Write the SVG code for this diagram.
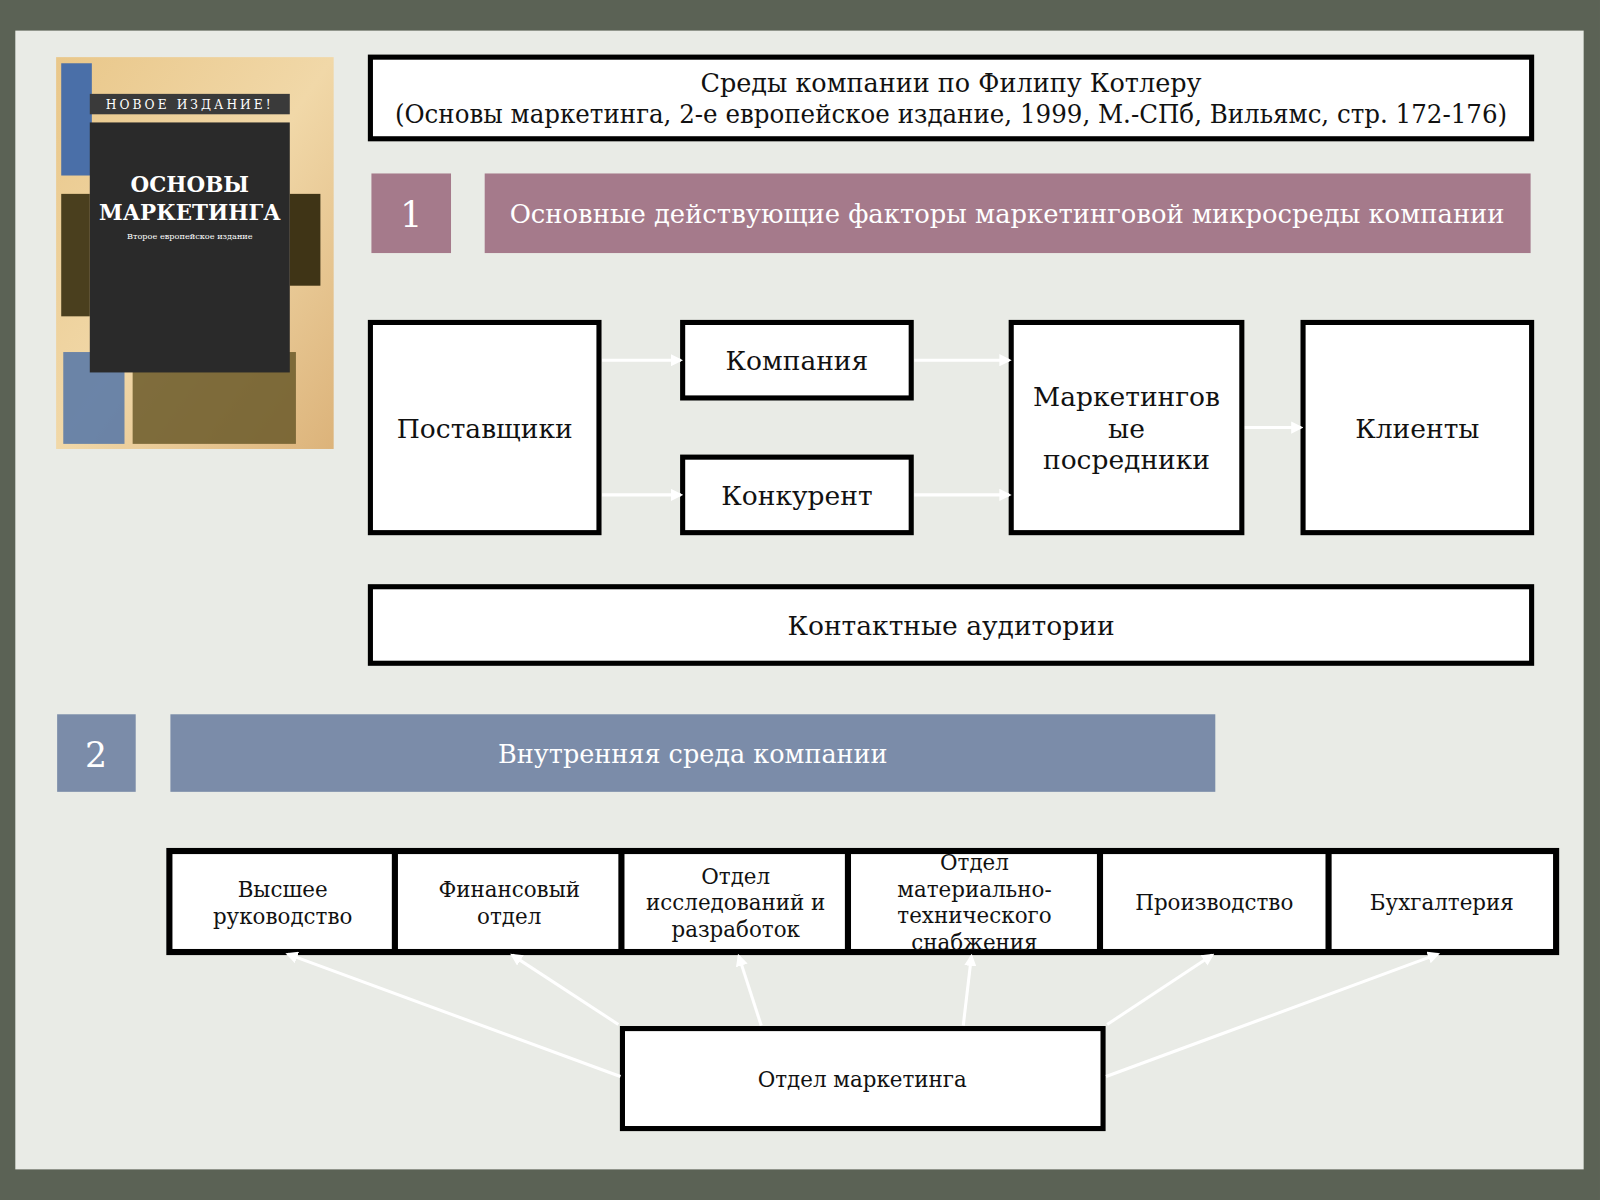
<svg xmlns="http://www.w3.org/2000/svg" width="1600" height="1200" viewBox="0 0 1600 1200">
<defs>
<style>
.box{fill:#fff;stroke:#000;stroke-width:5}
.t{font-family:"DejaVu Serif","Liberation Serif",serif;fill:#111;text-anchor:middle}
.w{font-family:"DejaVu Serif","Liberation Serif",serif;fill:#fff;text-anchor:middle}
.c{stroke:#fff;stroke-width:3;fill:none;marker-end:url(#a)}
</style>
<marker id="a" viewBox="0 0 10 10" refX="8" refY="5" markerWidth="4" markerHeight="4" orient="auto"><path d="M0,0L10,5L0,10z" fill="#fff"/></marker>
<linearGradient id="bk" x1="0" y1="0" x2="1" y2="1"><stop offset="0" stop-color="#e9c78a"/><stop offset="0.5" stop-color="#f1d8a8"/><stop offset="1" stop-color="#dcb37a"/></linearGradient>
</defs>
<g transform="scale(1.0204)">
<rect x="0" y="0" width="1568" height="1176" fill="#5b6255"/>
<rect x="15" y="30" width="1537" height="1116" fill="#e9ebe6"/>
<g id="book">
<rect x="55" y="56" width="272" height="384" fill="url(#bk)"/>
<rect x="60" y="62" width="30" height="110" fill="#4a6fa8"/>
<rect x="60" y="190" width="28" height="120" fill="#4a3f1e"/>
<rect x="284" y="190" width="30" height="90" fill="#3f3416"/>
<rect x="62" y="345" width="60" height="90" fill="#4a6fa8" opacity="0.8"/>
<rect x="130" y="345" width="160" height="90" fill="#6b5a2a" opacity="0.85"/>
<rect x="88" y="120" width="196" height="245" fill="#2a2a2a"/>
<rect x="88" y="92" width="196" height="20" fill="#3a3a3a"/>
<text x="186" y="107" class="w" font-size="12" letter-spacing="3">НОВОЕ ИЗДАНИЕ!</text>
<text x="186" y="188" class="w" font-size="21" font-weight="bold">ОСНОВЫ</text>
<text x="186" y="216" class="w" font-size="21" font-weight="bold">МАРКЕТИНГА</text>
<text x="186" y="234" class="w" font-size="8">Второе европейское издание</text>
</g>
<g id="title"><rect class="box" x="363" y="56" width="1138" height="80"/>
<text class="t" x="932" y="90" font-size="25">Среды компании по Филипу Котлеру</text>
<text class="t" x="932" y="121" font-size="25" textLength="1090" lengthAdjust="spacingAndGlyphs">(Основы маркетинга, 2-е европейское издание, 1999, М.-СПб, Вильямс, стр. 172-176)</text></g>
<g id="h1"><rect x="364" y="170" width="78" height="78" fill="#a57a8b"/><text class="w" x="403" y="222" font-size="34">1</text>
<rect x="475" y="170" width="1025" height="78" fill="#a57a8b"/><text class="w" x="987" y="219" font-size="25" textLength="975" lengthAdjust="spacingAndGlyphs">Основные действующие факторы маркетинговой микросреды компании</text></g>
<g id="n1"><rect class="box" x="363" y="316" width="224" height="206"/><text class="t" x="475" y="429" font-size="26">Поставщики</text></g>
<g id="n2"><rect class="box" x="669" y="316" width="224" height="74"/><text class="t" x="781" y="363" font-size="26">Компания</text></g>
<g id="n3"><rect class="box" x="669" y="448" width="224" height="74"/><text class="t" x="781" y="495" font-size="26">Конкурент</text></g>
<g id="n4"><rect class="box" x="991" y="316" width="226" height="206"/><text class="t" x="1104" y="398" font-size="26">Маркетингов</text><text class="t" x="1104" y="429" font-size="26">ые</text><text class="t" x="1104" y="460" font-size="26">посредники</text></g>
<g id="n5"><rect class="box" x="1277" y="316" width="224" height="206"/><text class="t" x="1389" y="429" font-size="26">Клиенты</text></g>
<g id="n6"><rect class="box" x="363" y="575" width="1138" height="75"/><text class="t" x="932" y="622" font-size="26">Контактные аудитории</text></g>
<g id="h2"><rect x="56" y="700" width="77" height="76" fill="#7b8ca9"/><text class="w" x="94" y="752" font-size="34">2</text>
<rect x="167" y="700" width="1024" height="76" fill="#7b8ca9"/><text class="w" x="679" y="748" font-size="25">Внутренняя среда компании</text></g>
<g id="row">
<rect x="166" y="834" width="1359" height="99" fill="#fff" stroke="#000" stroke-width="6"/>
<path d="M387,834V933M609,834V933M831,834V933M1078,834V933M1302,834V933" stroke="#000" stroke-width="6"/>
<text class="t" font-size="21"><tspan x="277" y="879">Высшее</tspan><tspan x="277" y="906">руководство</tspan></text>
<text class="t" font-size="21"><tspan x="499" y="879">Финансовый</tspan><tspan x="499" y="906">отдел</tspan></text>
<text class="t" font-size="21"><tspan x="721" y="866">Отдел</tspan><tspan x="721" y="892">исследований и</tspan><tspan x="721" y="918">разработок</tspan></text>
<text class="t" font-size="21"><tspan x="955" y="853">Отдел</tspan><tspan x="955" y="879">материально-</tspan><tspan x="955" y="905">технического</tspan><tspan x="955" y="931">снабжения</tspan></text>
<text class="t" font-size="21" x="1190" y="892">Производство</text>
<text class="t" font-size="21" x="1413" y="892">Бухгалтерия</text>
</g>
<g id="n7"><rect class="box" x="610" y="1008" width="471" height="98"/><text class="t" x="845" y="1065" font-size="21">Отдел маркетинга</text></g>
<g id="connectors">
<path class="c" d="M590,353H667"/><path class="c" d="M590,485H667"/>
<path class="c" d="M896,353H989"/><path class="c" d="M896,485H989"/>
<path class="c" d="M1220,419H1275"/>
<path class="c" d="M608,1055L282,935"/><path class="c" d="M606,1004L502,936"/>
<path class="c" d="M746,1005L724,937"/><path class="c" d="M944,1005L952,937"/>
<path class="c" d="M1085,1004L1188,936"/><path class="c" d="M1084,1055L1409,935"/>
</g>
</g>
</svg>
